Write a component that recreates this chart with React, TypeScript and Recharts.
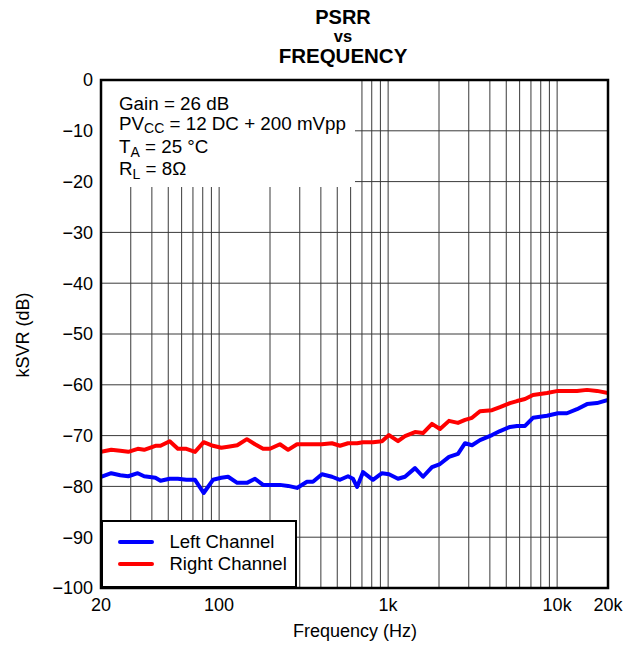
import React from 'react';
import { LineChart, Line, XAxis, YAxis, CartesianGrid, Legend } from 'recharts';

// ---- data ----
const frequencies = [
  20, 23, 26, 29, 33, 36, 42, 45, 51, 57,
  64, 72, 81, 92, 103, 113, 128, 146, 163, 182,
  200, 229, 256, 289, 331, 359, 406, 465, 519, 579,
  619, 655, 710, 813, 920, 1012, 1144, 1258, 1442, 1609,
  1818, 2028, 2292, 2590, 2852, 3136, 3496, 4118, 4592, 5260,
  5788, 6456, 7196, 8710, 10118, 11432, 13110, 15030, 17216, 20000,
];
const leftChannel = [
  -78.1, -77.4, -77.8, -78.0, -77.4, -78.0, -78.3, -78.9, -78.5, -78.5,
  -78.7, -78.7, -81.3, -78.7, -78.3, -78.1, -79.3, -79.3, -78.5, -79.7,
  -79.7, -79.7, -79.9, -80.3, -79.1, -79.1, -77.6, -78.1, -78.7, -78.0,
  -78.5, -80.1, -77.2, -78.7, -77.4, -77.6, -78.5, -78.1, -76.4, -78.1,
  -76.2, -75.6, -74.2, -73.6, -71.5, -71.9, -70.9, -69.9, -69.1, -68.3,
  -68.1, -68.1, -66.5, -66.1, -65.6, -65.6, -64.8, -63.8, -63.6, -63.0,
];
const rightChannel = [
  -73.2, -72.8, -73.0, -73.2, -72.6, -72.8, -72.0, -72.0, -71.1, -72.6,
  -72.6, -73.2, -71.3, -72.0, -72.4, -72.2, -71.9, -70.7, -71.7, -72.6,
  -72.6, -71.7, -72.8, -71.7, -71.7, -71.7, -71.7, -71.5, -72.0, -71.5,
  -71.5, -71.5, -71.3, -71.3, -71.1, -69.9, -71.1, -70.1, -69.3, -69.5,
  -67.7, -68.7, -67.1, -67.5, -66.9, -66.5, -65.2, -65.0, -64.4, -63.6,
  -63.2, -62.8, -62.0, -61.6, -61.2, -61.2, -61.2, -61.0, -61.2, -61.6,
];
const xGridTicks = [
  20, 30, 40, 50, 60, 70, 80, 90,
  100, 200, 300, 400, 500, 600, 700, 800, 900,
  1000, 2000, 3000, 4000, 5000, 6000, 7000, 8000, 9000,
  10000, 20000,
];
const xTickLabels: Record<number, string> = { 20: '20', 100: '100', 1000: '1k', 10000: '10k', 20000: '20k' };
const yTicks = [0, -10, -20, -30, -40, -50, -60, -70, -80, -90, -100];
const seriesNames = { left: 'Left Channel', right: 'Right Channel' };
const titleLines = ['PSRR', 'vs', 'FREQUENCY'];

const data = frequencies.map((f, i) => ({ f, left: leftChannel[i], right: rightChannel[i] }));

// ---- layout ----
const W = 642;
const H = 646;
const MARGIN = { top: 80, right: 34, bottom: 0, left: 0 };
const Y_AXIS_W = 101;
const X_AXIS_H = 58;
const PL = MARGIN.left + Y_AXIS_W;
const PT = MARGIN.top;
const PW = W - PL - MARGIN.right;
const PH = H - PT - MARGIN.bottom - X_AXIS_H;
const FONT = '"Liberation Sans", Arial, Helvetica, sans-serif';

const fmtY = (v: number) => (v < 0 ? '\u2212' + Math.abs(v) : String(v));
const fmtX = (v: number) => xTickLabels[v] ?? '';

const renderLegend = (props: any) => {
  const items = props.payload || [];
  return (
    <div
      style={{
        width: 196,
        height: 68,
        boxSizing: 'border-box',
        border: '2.5px solid #000',
        background: '#fff',
        paddingTop: 8.5,
        fontFamily: FONT,
        fontSize: 18.5,
        color: '#000',
      }}
    >
      {items.map((it: any) => (
        <div key={it.value} style={{ display: 'flex', alignItems: 'center', height: 22 }}>
          <span
            style={{
              display: 'inline-block',
              width: 36,
              height: 4,
              borderRadius: 2,
              background: it.color,
              marginLeft: 14.5,
              marginRight: 16,
            }}
          />
          <span style={{ lineHeight: '22px' }}>{it.value}</span>
        </div>
      ))}
    </div>
  );
};

export default function App() {
  return (
    <div style={{ position: 'absolute', left: 0, top: 0, width: W, height: H, background: '#fff', fontFamily: FONT }}>
      <LineChart width={W} height={H} data={data} margin={MARGIN}>
        <CartesianGrid stroke="#3a3a3a" strokeWidth={1} />
        <XAxis
          dataKey="f"
          type="number"
          scale="log"
          domain={[20, 20000]}
          ticks={xGridTicks}
          interval={0}
          tickFormatter={fmtX}
          tickLine={false}
          axisLine={false}
          height={X_AXIS_H}
          tickMargin={4}
          tick={{ fill: '#000', fontSize: 18, fontFamily: FONT }}
          allowDataOverflow
        />
        <YAxis
          type="number"
          domain={[-100, 0]}
          ticks={yTicks}
          interval={0}
          tickFormatter={fmtY}
          tickLine={false}
          axisLine={false}
          width={Y_AXIS_W}
          tick={{ fill: '#000', fontSize: 18, fontFamily: FONT }}
        />
        <Legend
          layout="vertical"
          align="center"
          verticalAlign="middle"
          content={renderLegend}
          wrapperStyle={{ left: PL, top: 520, width: 196, height: 68 }}
        />
        <Line
          type="linear"
          dataKey="left"
          name={seriesNames.left}
          stroke="#0000ff"
          strokeWidth={4}
          strokeLinejoin="round"
          dot={false}
          isAnimationActive={false}
        />
        <Line
          type="linear"
          dataKey="right"
          name={seriesNames.right}
          stroke="#ff0000"
          strokeWidth={4}
          strokeLinejoin="round"
          dot={false}
          isAnimationActive={false}
        />
      </LineChart>
      <svg
        width={W}
        height={H}
        style={{ position: 'absolute', left: 0, top: 0, pointerEvents: 'none' }}
        fontFamily={FONT}
      >
        {/* annotation box */}
        <rect x={PL} y={PT} width={254} height={107} fill="#fff" />
        {/* plot frame */}
        <rect x={PL} y={PT} width={PW} height={PH} fill="none" stroke="#000" strokeWidth={2.5} />
        {/* title */}
        <text x={343} y={24} textAnchor="middle" fontWeight="bold" fontSize={20} fill="#000">{titleLines[0]}</text>
        <text x={343} y={42} textAnchor="middle" fontWeight="bold" fontSize={16.5} fill="#000">{titleLines[1]}</text>
        <text x={343} y={63} textAnchor="middle" fontWeight="bold" fontSize={20.5} fill="#000">{titleLines[2]}</text>
        {/* annotation text */}
        <g fontSize={18.8} fill="#000">
          <text x={119} y={110}>Gain = 26 dB</text>
          <text x={119} y={130}>
            PV<tspan fontSize={14} dy={3}>CC</tspan>
            <tspan dy={-3}> = 12 DC + 200 mVpp</tspan>
          </text>
          <text x={119} y={153}>
            T<tspan fontSize={14} dy={4}>A</tspan>
            <tspan dy={-4}> = 25 °C</tspan>
          </text>
          <text x={119} y={175}>
            R<tspan fontSize={14} dy={4}>L</tspan>
            <tspan dy={-4}> = 8Ω</tspan>
          </text>
        </g>
        {/* axis titles */}
        <text transform="translate(29,335) rotate(-90)" textAnchor="middle" fontSize={18} fill="#000">kSVR (dB)</text>
        <text x={355} y={637} textAnchor="middle" fontSize={18} fill="#000">Frequency (Hz)</text>
      </svg>
    </div>
  );
}
